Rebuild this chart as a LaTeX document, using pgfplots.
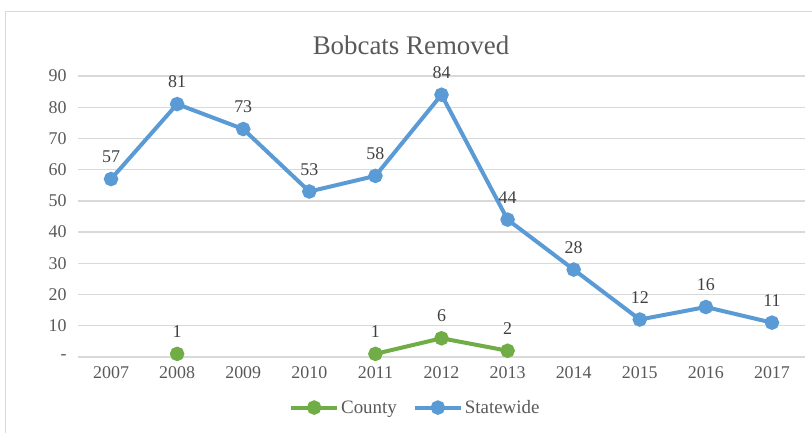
\documentclass[border=0pt]{standalone}
\usepackage{pgfplots}
\pgfplotsset{compat=1.18}
\usepackage{fontspec}
\setmainfont{Liberation Serif}
\definecolor{stateblue}{HTML}{5B9BD5}
\definecolor{countygreen}{HTML}{70AD47}
\definecolor{gridgray}{HTML}{D9D9D9}
\definecolor{ticktxt}{HTML}{595959}
\definecolor{labtxt}{HTML}{404040}

\begin{document}
\begin{tikzpicture}[x=1bp,y=1bp]
  \useasboundingbox (0,0) rectangle (812,433);
  \draw[gridgray, line width=1bp] (5.5,-5) -- (5.5,421.5) -- (820,421.5);
  \node[text=ticktxt, font=\fontsize{27}{30}\selectfont] at (411,388) {Bobcats Removed};
  \begin{axis}[
      at={(78bp,76bp)}, anchor=south west,
      scale only axis, width=727bp, height=281bp,
      xmin=2006.5, xmax=2017.5, ymin=0, ymax=90,
      xtick={2007,2008,...,2017},
      xticklabels={2007,2008,2009,2010,2011,2012,2013,2014,2015,2016,2017},
      ytick={0,10,...,90},
      yticklabels={-,10,20,30,40,50,60,70,80,90},
      axis line style={draw=none},
      major tick length=0pt,
      ymajorgrids, grid style={gridgray, line width=1.3bp},
      tick label style={text=ticktxt, font=\fontsize{18}{20}\selectfont},
      xticklabel style={yshift=-6bp},
      yticklabel style={xshift=-8bp},
      /pgf/number format/assume math mode=true,
      unbounded coords=jump,
      clip=false,
      nodes near coords,
      every node near coord/.append style={text=labtxt, font=\fontsize{18}{20}\selectfont, yshift=11bp},
      legend columns=2,
      legend style={at={(0.464,-0.18)}, anchor=center, draw=none, fill=none,
        font=\fontsize{19}{21}\selectfont, text=ticktxt,
        /tikz/every even column/.append style={column sep=14bp}},
      legend image code/.code={
        \draw[mark repeat=2, mark phase=2] plot coordinates {(0bp,0bp) (23bp,0bp) (46bp,0bp)};
      },
    ]
    \addplot[countygreen, line width=4bp, mark=*, mark size=5.2bp,
      mark options={solid, draw=none, fill=countygreen}] table {
x y
2008 1
2009 nan
2010 nan
2011 1
2012 6
2013 2
    };
    \addlegendentry{County}
    \addplot[stateblue, line width=4bp, mark=*, mark size=5.2bp,
      mark options={solid, draw=none, fill=stateblue}] table {
x y
2007 57
2008 81
2009 73
2010 53
2011 58
2012 84
2013 44
2014 28
2015 12
2016 16
2017 11
    };
    \addlegendentry{Statewide}
  \end{axis}
\end{tikzpicture}
\end{document}
